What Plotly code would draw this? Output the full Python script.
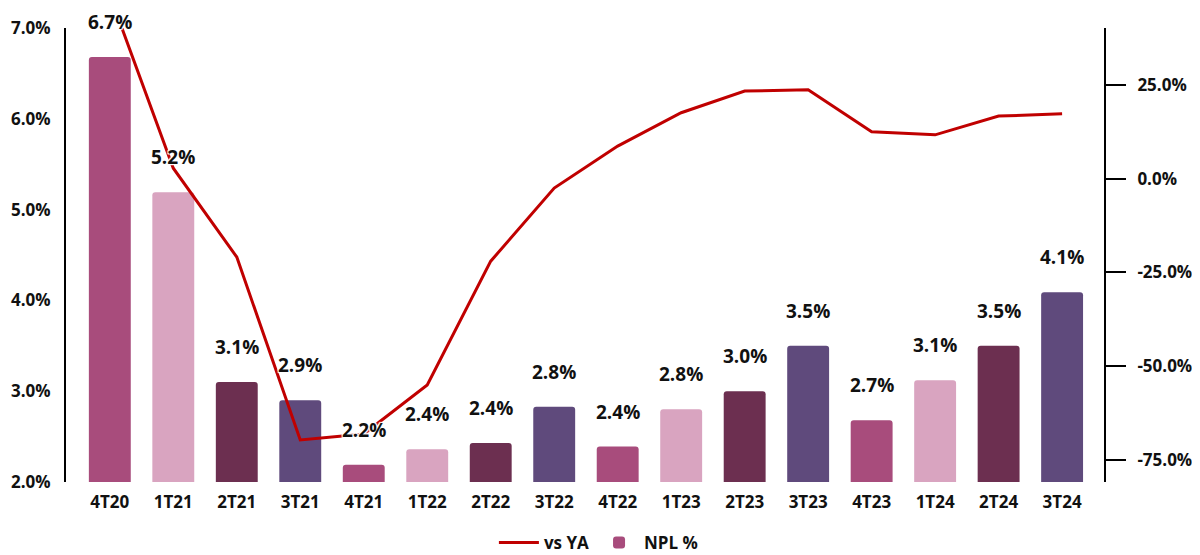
import plotly.graph_objects as go

categories = ["4T20", "1T21", "2T21", "3T21", "4T21", "1T22", "2T22", "3T22",
              "4T22", "1T23", "2T23", "3T23", "4T23", "1T24", "2T24", "3T24"]
npl_values = [6.68, 5.19, 3.10, 2.90, 2.19, 2.36, 2.43, 2.83,
              2.39, 2.80, 3.00, 3.50, 2.68, 3.12, 3.50, 4.09]
npl_labels = ["6.7%", "5.2%", "3.1%", "2.9%", "2.2%", "2.4%", "2.4%", "2.8%",
              "2.4%", "2.8%", "3.0%", "3.5%", "2.7%", "3.1%", "3.5%", "4.1%"]
vs_ya = [49.0, 2.8, -20.9, -69.7, -68.1, -55.0, -22.0, -2.5,
         8.7, 17.6, 23.4, 23.7, 12.5, 11.7, 16.7, 17.3]
left_ticks = [2, 3, 4, 5, 6, 7]
left_ticktext = ["2.0%", "3.0%", "4.0%", "5.0%", "6.0%", "7.0%"]
right_ticks = [25, 0, -25, -50, -75]
right_ticktext = ["25.0%", "0.0%", "-25.0%", "-50.0%", "-75.0%"]
palette = ["#A84C7C", "#D9A4C0", "#6C2F50", "#5F4A7C"]
bar_colors = [palette[i % 4] for i in range(len(categories))]

FONT = "Open Sans"
fig = go.Figure()

fig.add_trace(go.Scatter(
    x=categories, y=vs_ya, name="vs YA", mode="lines",
    line=dict(color="#C00000", width=3), yaxis="y2",
))
fig.add_trace(go.Bar(
    x=categories, y=npl_values, name="NPL %",
    marker=dict(color=bar_colors, cornerradius=3, line=dict(width=0)),
    yaxis="y",
))

shadow = "1px 1px 1px white, -1px -1px 1px white, 1px -1px 1px white, -1px 1px 1px white, 0px 0px 2px white"
for c, v, t in zip(categories, npl_values, npl_labels):
    fig.add_annotation(
        x=c, y=v, xref="x", yref="y", text=t, showarrow=False,
        yshift=35, yanchor="middle",
        font=dict(family=FONT, size=19, color="#111111", weight="bold", shadow=shadow),
    )

tick_font = dict(family=FONT, size=17, color="#111111", weight="bold")
fig.update_layout(
    width=1200, height=555,
    paper_bgcolor="white", plot_bgcolor="white",
    margin=dict(l=58, r=104, t=20, b=81, autoexpand=False),
    bargap=0.34,
    showlegend=True,
    legend=dict(orientation="h", xref="container", x=0.492, xanchor="center",
                yref="container", y=0.036, yanchor="middle",
                font=dict(family=FONT, size=17, color="#111111", weight="bold"),
                traceorder="normal", itemwidth=40),
    xaxis=dict(
        range=[-0.69, 15.66], showline=False, showgrid=False, ticks="",
        ticklabelstandoff=8,
        tickfont=tick_font,
    ),
    yaxis=dict(
        range=[2.0, 7.0], tickvals=left_ticks, ticktext=left_ticktext,
        showgrid=False, zeroline=False, showline=True, linecolor="#000000", linewidth=2,
        ticks="", ticklabelstandoff=10,
        tickfont=tick_font,
    ),
    yaxis2=dict(
        overlaying="y", side="right", range=[-80.9, 40.2],
        tickvals=right_ticks, ticktext=right_ticktext,
        showgrid=False, zeroline=False, showline=True, linecolor="#000000", linewidth=2,
        ticks="outside", ticklen=20, tickwidth=2, tickcolor="#000000",
        ticklabelstandoff=8,
        tickfont=tick_font,
    ),
)

fig.write_html("out.html")
